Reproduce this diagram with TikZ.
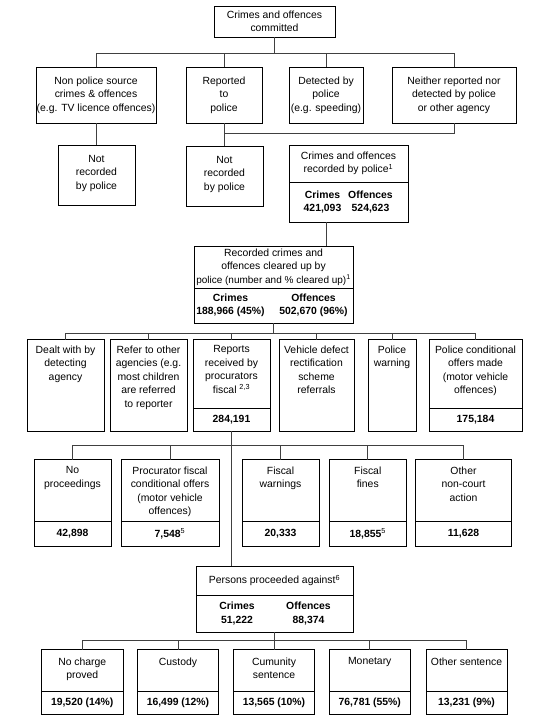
\documentclass[tikz,border=0pt]{standalone}
\usepackage{fontspec}
\setmainfont{Liberation Sans}
\newcommand\fsz{\fontsize{10.4}{13.5}\selectfont}
\newcommand\bx[5]{%
  \pgfmathsetmacro\bw{#4-#2}\pgfmathsetmacro\bh{#5-#3}%
  \node[box, minimum width=\bw pt, minimum height=\bh pt] (#1) at ({(#2+#4)/2},{(#3+#5)/2}) {};}
\newcommand\sups[1]{\textsuperscript{\mdseries #1}}
\tikzset{
  box/.style={draw=black, line width=0.9pt, inner sep=0pt, outer sep=0pt},
  conn/.style={draw=black!75, line width=0.75pt},
  txt/.style={align=center, inner sep=0pt, font=\fsz},
  num/.style={align=center, inner sep=0pt, font=\fsz\bfseries},
}
\begin{document}
\begin{tikzpicture}[x=1pt,y=-1pt]
\useasboundingbox (0,0) rectangle (541,716);
% ---- boxes ----
\bx{top}{214}{6}{335}{37}
\bx{A}{36}{67}{156}{123}
\bx{B}{186}{67}{262}{123}
\bx{C}{289}{67}{363}{123}
\bx{D}{392}{67}{516}{123}
\bx{NR1}{58}{145}{135}{205}
\bx{NR2}{186}{146}{263}{206}
\bx{recU}{289}{145}{408}{182}
\bx{recL}{289}{182}{408}{222}
\bx{clU}{194}{246}{353}{288}
\bx{clL}{194}{288}{353}{323}
\bx{a}{27}{339.5}{104}{431}
\bx{b}{110}{339.5}{187}{431}
\bx{cU}{193}{339.5}{270}{408}
\bx{cL}{193}{408}{270}{431}
\bx{d}{279}{339.5}{354}{431}
\bx{e}{368}{339.5}{416}{431}
\bx{fU}{429}{339.5}{522}{408}
\bx{fL}{429}{408}{522}{431}
\bx{n1U}{34}{459.5}{111}{521.5}
\bx{n1L}{34}{521.5}{111}{546.5}
\bx{n2U}{121}{459.5}{219}{521.5}
\bx{n2L}{121}{521.5}{219}{546.5}
\bx{n3U}{242}{459.5}{319}{521.5}
\bx{n3L}{242}{521.5}{319}{546.5}
\bx{n4U}{329.5}{459.5}{406}{521.5}
\bx{n4L}{329.5}{521.5}{406}{546.5}
\bx{n5U}{415.5}{459.5}{511.5}{521.5}
\bx{n5L}{415.5}{521.5}{511.5}{546.5}
\bx{pU}{196}{566}{353}{595}
\bx{pL}{196}{595}{353}{632}
\bx{b1U}{41.5}{649.5}{123}{691}
\bx{b1L}{41.5}{691}{123}{714}
\bx{b2U}{137.5}{649.5}{218.5}{691}
\bx{b2L}{137.5}{691}{218.5}{714}
\bx{b3U}{233.5}{649.5}{314.5}{691}
\bx{b3L}{233.5}{691}{314.5}{714}
\bx{b4U}{329.5}{649.5}{410}{691}
\bx{b4L}{329.5}{691}{410}{714}
\bx{b5U}{426}{649.5}{507}{691}
\bx{b5L}{426}{691}{507}{714}
% ---- texts ----
\node[txt] (tTop) at (top) {Crimes and offences\\committed};
\node[txt] (tA) at (A) {Non police source\\crimes \& offences\\(e.g. TV licence offences)};
\node[txt] (tB) at (B) {Reported\\to\\police};
\node[txt] (tC) at (C) {Detected by\\police\\(e.g. speeding)};
\node[txt] (tD) at (D) {Neither reported nor\\detected by police\\or other agency};
\node[txt] (tNR1) at ([yshift=2pt]NR1.center) {Not\\recorded\\by police};
\node[txt] (tNR2) at ([yshift=2pt]NR2.center) {Not\\recorded\\by police};
\node[txt] (tRec) at (recU) {Crimes and offences\\recorded by police\sups{1}};
\node[num] (tRecC) at ([xshift=-26pt]recL.center) {Crimes\\421,093};
\node[num] (tRecO) at ([xshift=22pt]recL.center) {Offences\\524,623};
\node[txt] (tCl) at (clU) {Recorded crimes and\\offences cleared up by\\{\fontsize{10}{13.5}\selectfont police (number and \% cleared up)\sups{1}}};
\node[num] (tClC) at ([xshift=-43pt]clL.center) {Crimes\\188,966 (45\%)};
\node[num] (tClO) at ([xshift=40pt]clL.center) {Offences\\502,670 (96\%)};
\node[txt, anchor=north] (ta) at ([yshift=-6pt]a.north) {Dealt with by\\detecting\\agency};
\node[txt, anchor=north] (tb) at ([yshift=-6pt]b.north) {Refer to other\\agencies (e.g.\\most children\\are referred\\to reporter};
\node[txt, anchor=north] (tc) at ([yshift=-6pt]cU.north) {Reports\\received by\\procurators\\fiscal \sups{2,3}};
\node[num] (tcN) at (cL) {284,191};
\node[txt, anchor=north] (td) at ([yshift=-6pt]d.north) {Vehicle defect\\rectification\\scheme\\referrals};
\node[txt, anchor=north] (te) at ([yshift=-6pt]e.north) {Police\\warning};
\node[txt, anchor=north] (tf) at ([yshift=-6pt]fU.north) {Police conditional\\offers made\\(motor vehicle\\offences)};
\node[num] (tfN) at (fL) {175,184};
\node[txt, anchor=north] (tn1) at ([yshift=-7pt]n1U.north) {No\\proceedings};
\node[num] (tn1N) at (n1L) {42,898};
\node[txt, anchor=north] (tn2) at ([yshift=-7pt]n2U.north) {Procurator fiscal\\conditional offers\\(motor vehicle\\offences)};
\node[num] (tn2N) at (n2L) {7,548\sups{5}};
\node[txt, anchor=north] (tn3) at ([yshift=-7pt]n3U.north) {Fiscal\\warnings};
\node[num] (tn3N) at (n3L) {20,333};
\node[txt, anchor=north] (tn4) at ([yshift=-7pt]n4U.north) {Fiscal\\fines};
\node[num] (tn4N) at (n4L) {18,855\sups{5}};
\node[txt, anchor=north] (tn5) at ([yshift=-7pt]n5U.north) {Other\\non-court\\action};
\node[num] (tn5N) at (n5L) {11,628};
\node[txt] (tp) at (pU) {Persons proceeded against\sups{6}};
\node[num] (tpC) at ([xshift=-37.5pt]pL.center) {Crimes\\51,222};
\node[num] (tpO) at ([xshift=34pt]pL.center) {Offences\\88,374};
\node[txt, anchor=north] (tb1) at ([yshift=-8pt]b1U.north) {No charge\\proved};
\node[num] (tb1N) at (b1L) {19,520 (14\%)};
\node[txt, anchor=north] (tb2) at ([yshift=-8pt]b2U.north) {Custody};
\node[num] (tb2N) at (b2L) {16,499 (12\%)};
\node[txt, anchor=north] (tb3) at ([yshift=-8pt]b3U.north) {Cumunity\\sentence};
\node[num] (tb3N) at (b3L) {13,565 (10\%)};
\node[txt, anchor=north] (tb4) at ([yshift=-8pt]b4U.north) {Monetary};
\node[num] (tb4N) at (b4L) {76,781 (55\%)};
\node[txt, anchor=north] (tb5) at ([yshift=-8pt]b5U.north) {Other sentence};
\node[num] (tb5N) at (b5L) {13,231 (9\%)};
% ---- connectors ----
\coordinate (L1) at (0,53);
\coordinate (L2) at (0,133);
\coordinate (X326) at (326,0);
\coordinate (L3) at (0,333);
\coordinate (L4) at (0,445.5);
\coordinate (L5) at (0,640.5);
\foreach \n in {A,B,C,D}
  \draw[conn] (top.south) -- (top.south |- L1) -| (\n.north);
\draw[conn] (A.south) -- (A.south |- NR1.north);
\draw[conn] (B.south) -- (B.south |- NR2.north);
\draw[conn] (D.south) |- (B.south |- L2);
\draw[conn] (recL.south -| X326) -- (clU.north -| X326);
\foreach \n in {a,b,cU,d,e,fU}
  \draw[conn] (clL.south) -- (clL.south |- L3) -| (\n.north);
\foreach \n in {n1U,n2U,n3U,n4U,n5U}
  \draw[conn] (cL.south) -- (cL.south |- L4) -| (\n.north);
\draw[conn] (cL.south) -- (cL.south |- pU.north);
\foreach \n in {b1U,b2U,b3U,b4U,b5U}
  \draw[conn] (pL.south) -- (pL.south |- L5) -| (\n.north);
\end{tikzpicture}
\end{document}
